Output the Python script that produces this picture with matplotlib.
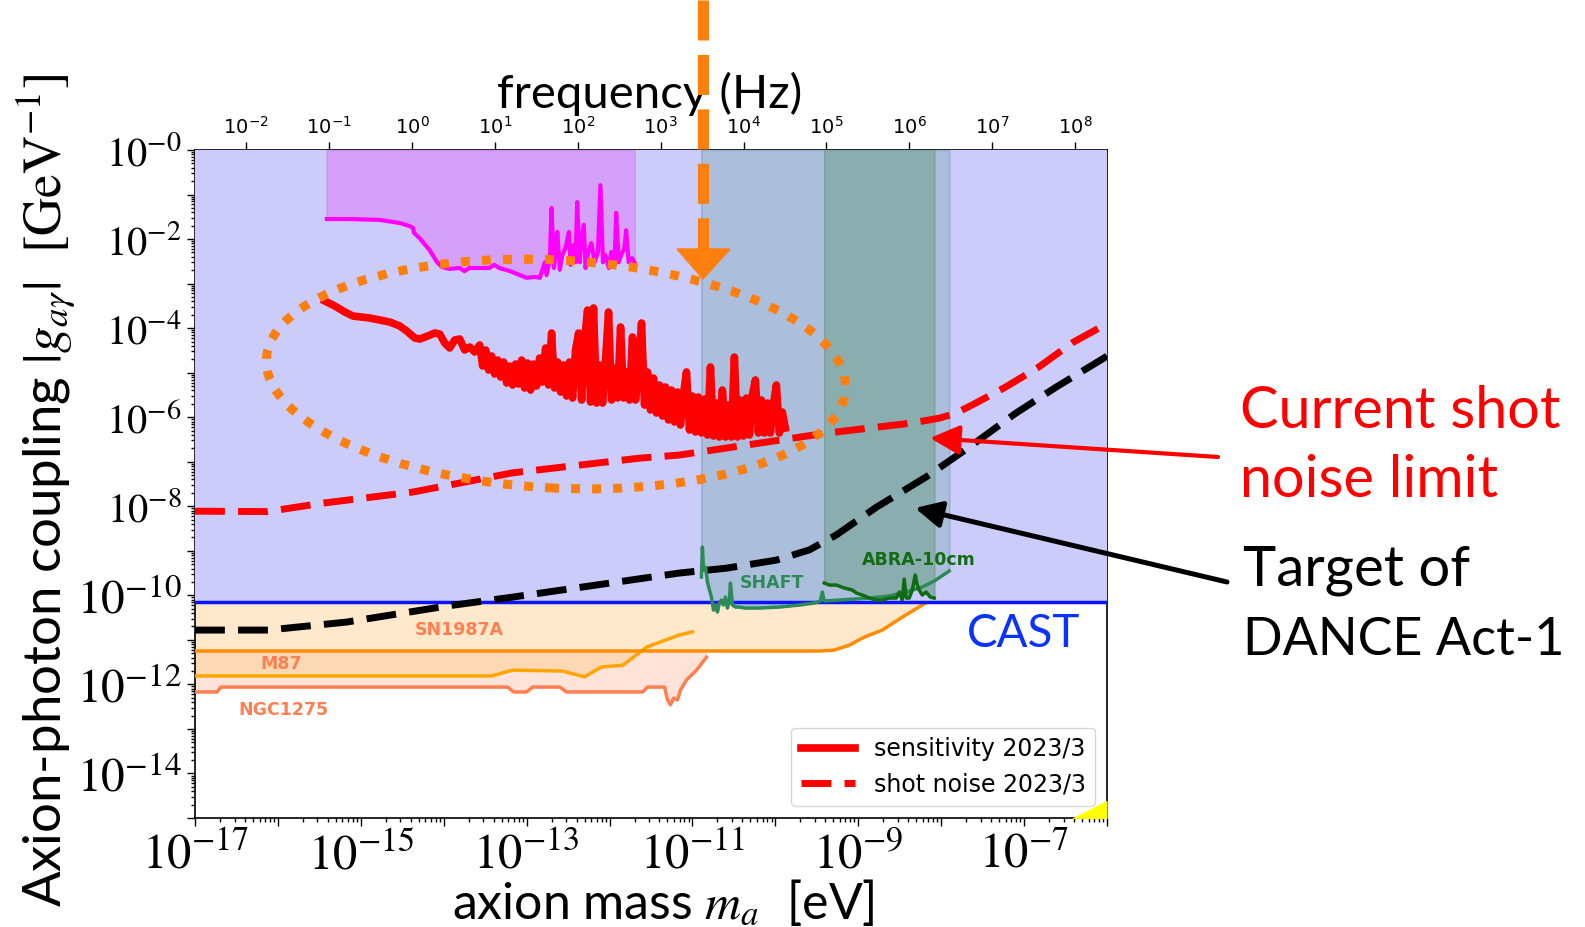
import numpy as np
import matplotlib
matplotlib.use("Agg")
import matplotlib.pyplot as plt
from matplotlib.patches import Ellipse, FancyArrowPatch, Polygon
from matplotlib.lines import Line2D
from matplotlib.ticker import LogLocator, NullFormatter, NullLocator

plt.rcParams['font.family'] = ['Lato', 'DejaVu Sans']
plt.rcParams['mathtext.fontset'] = 'dejavusans'

# ---------------- data (log10 of mass [eV] and coupling [GeV^-1]) ----------------
cast_logg = -10.16

sens_logm = [-15.434, -15.313, -15.193, -15.096, -14.892, -14.651, -14.530, -14.446, -14.349, -14.289,
             -14.193, -14.108, -14.048, -13.988, -13.928, -13.867, -13.807, -13.747, -13.687, -13.627,
             -13.566, -13.530, -13.494, -13.458, -13.422, -13.386, -13.349, -13.313, -13.277, -13.241,
             -13.205, -13.169, -13.133, -13.096, -13.060, -13.024, -12.988, -12.952, -12.916, -12.880,
             -12.843, -12.807, -12.771, -12.735, -12.699, -12.663, -12.627, -12.590, -12.554, -12.518,
             -12.482, -12.446, -12.410, -12.373, -12.337, -12.301, -12.265, -12.229, -12.193, -12.157,
             -12.120, -12.084, -12.048, -12.012, -11.976, -11.940, -11.904, -11.867, -11.831, -11.795,
             -11.759, -11.723, -11.687, -11.651, -11.614, -11.578, -11.542, -11.506, -11.470, -11.434,
             -11.398, -11.361, -11.325, -11.289, -11.253, -11.217, -11.181, -11.145, -11.108, -11.072,
             -11.036, -11.000, -10.964, -10.928, -10.892, -10.855, -10.819, -10.783, -10.747, -10.711,
             -10.675, -10.639, -10.602, -10.566, -10.530, -10.494, -10.458, -10.422, -10.386, -10.349,
             -10.313, -10.277, -10.241, -10.205, -10.169, -10.133, -10.096, -10.060, -10.024, -9.988,
             -9.952, -9.916, -9.880]
sens_logg = [-3.391, -3.503, -3.638, -3.728, -3.773, -3.863, -3.952, -4.065, -4.222, -4.244,
             -4.177, -4.110, -4.132, -4.334, -4.446, -4.267, -4.244, -4.491, -4.424, -4.536,
             -4.379, -4.851, -4.491, -4.941, -4.626, -5.030, -4.716, -5.098, -4.761, -5.232,
             -4.851, -5.277, -4.806, -5.255, -4.716, -5.345, -4.783, -5.390, -4.806, -5.300,
             -4.671, -5.210, -4.446, -5.277, -4.110, -5.345, -4.761, -5.435, -4.828, -5.524,
             -4.761, -5.569, -4.491, -4.110, -5.614, -4.267, -3.593, -5.659, -3.548, -5.682,
             -4.828, -5.682, -4.716, -3.638, -5.614, -4.896, -5.569, -3.975, -5.569, -4.985,
             -5.614, -4.199, -5.614, -4.941, -3.885, -5.727, -4.985, -5.839, -5.120, -5.906,
             -5.277, -5.974, -5.322, -6.063, -5.390, -6.108, -5.435, -6.176, -5.479, -4.985,
             -6.288, -5.524, -6.333, -5.547, -6.355, -5.592, -6.400, -4.873, -6.423, -5.682,
             -6.445, -5.390, -6.445, -5.727, -6.445, -4.649, -6.445, -5.614, -6.423, -5.569,
             -6.400, -5.502, -5.165, -6.355, -5.614, -6.355, -5.682, -6.355, -5.727, -5.277,
             -6.355, -5.884, -6.243]

shot_logm = [-17.0, -16.13, -15.46, -14.37, -13.17, -11.64, -11.16, -9.39, -8.35, -8.02, -7.82,
             -7.58, -7.22, -6.82, -6.42, -6.0]
shot_logg = [-8.11, -8.12, -7.93, -7.68, -7.25, -6.92, -6.85, -6.36, -6.13, -6.02, -5.91,
             -5.68, -5.32, -4.87, -4.33, -3.90]

target_logm = [-17.0, -16.12, -15.17, -13.96, -13.17, -11.16, -10.59, -9.99, -9.59, -9.27,
               -8.78, -8.18, -7.66, -7.10, -6.61, -6.0]
target_logg = [-10.78, -10.78, -10.60, -10.24, -10.04, -9.50, -9.39, -9.21, -8.98, -8.65,
               -8.02, -7.34, -6.67, -5.91, -5.32, -4.63]

prev_logm = [-15.41, -15.13, -14.77, -14.53, -14.41, -14.37, -14.36, -14.29, -14.17, -14.08,
             -14.02, -13.93, -13.81, -13.75, -13.69, -13.57, -13.45, -13.39, -13.33, -13.20,
             -13.08, -13.00, -12.90, -12.84, -12.81, -12.78, -12.76, -12.72, -12.70, -12.67,
             -12.65, -12.63, -12.60, -12.57, -12.53, -12.49, -12.47, -12.43, -12.41, -12.39,
             -12.36, -12.34, -12.31, -12.29, -12.25, -12.22, -12.18, -12.14, -12.11, -12.08,
             -12.05, -12.01, -11.98, -11.94, -11.92, -11.89, -11.86, -11.82, -11.80, -11.77,
             -11.73, -11.70]
prev_logg = [-1.55, -1.55, -1.57, -1.64, -1.71, -1.75, -1.86, -1.98, -2.25, -2.52,
             -2.63, -2.67, -2.65, -2.72, -2.65, -2.65, -2.65, -2.58, -2.65, -2.72,
             -2.81, -2.87, -2.85, -2.87, -2.69, -2.52, -2.81, -2.47, -1.30, -2.65,
             -2.25, -1.84, -2.69, -2.36, -2.20, -1.84, -2.58, -2.13, -2.52, -1.17,
             -2.52, -2.02, -1.68, -2.65, -2.25, -2.09, -2.52, -2.29, -0.79, -2.52,
             -2.36, -2.65, -2.29, -2.58, -1.41, -2.52, -2.36, -2.20, -1.80, -2.52,
             -2.43, -2.52]

shaft_logm = [-10.892, -10.880, -10.867, -10.843, -10.819, -10.795, -10.771, -10.747, -10.723, -10.699,
              -10.675, -10.651, -10.627, -10.602, -10.578, -10.554, -10.542, -10.518, -10.482, -10.434,
              -10.373, -10.193, -9.952, -9.711, -9.530, -9.458, -9.434, -9.410, -9.229, -8.867,
              -8.627, -8.386, -8.229, -8.084, -7.904]
shaft_logg = [-9.589, -8.915, -9.432, -9.365, -9.701, -9.881, -10.038, -10.330, -10.218, -10.375,
              -10.173, -10.106, -10.218, -10.038, -10.285, -10.106, -9.724, -10.218, -10.263, -10.263,
              -10.285, -10.285, -10.263, -10.218, -10.173, -10.128, -9.926, -10.128, -10.106, -10.061,
              -10.016, -9.904, -9.814, -9.679, -9.454]

abra_logm = [-9.410, -9.349, -9.265, -9.169, -9.072, -9.024, -8.952, -8.867, -8.783, -8.711,
             -8.627, -8.542, -8.506, -8.470, -8.446, -8.422, -8.386, -8.349, -8.313, -8.289,
             -8.265, -8.229, -8.181, -8.133, -8.084]
abra_logg = [-9.724, -9.769, -9.769, -9.836, -9.881, -9.948, -9.993, -10.061, -10.106, -10.106,
             -10.061, -10.061, -9.926, -10.106, -9.634, -10.061, -10.061, -9.881, -9.544, -9.769,
             -9.881, -9.993, -9.926, -10.038, -10.061]

sn_logm = [-17.0, -9.47, -9.29, -9.11, -8.93, -8.71, -8.47, -8.23, -8.02]
sn_logg = [-11.25, -11.25, -11.23, -11.12, -10.94, -10.78, -10.49, -10.22, -9.99]

m87_logm = [-17.0, -13.42, -13.17, -12.57, -12.30, -12.10, -11.84, -11.55, -11.16, -11.0]
m87_logg = [-11.81, -11.81, -11.68, -11.70, -11.83, -11.61, -11.57, -11.16, -10.89, -10.82]

ngc_logm = [-17.0, -16.735, -16.687, -13.229, -13.157, -13.0, -12.928, -12.602, -12.518, -11.602,
            -11.542, -11.337, -11.301, -11.265, -11.229, -11.181, -11.145, -11.072, -10.952, -10.831]
ngc_logg = [-12.17, -12.17, -12.06, -12.06, -12.17, -12.17, -12.06, -12.06, -12.17, -12.17,
            -12.06, -12.06, -12.35, -12.46, -12.31, -12.35, -12.13, -11.90, -11.68, -11.39]

qcd_logm = [-6.42, -6.0]
qcd_logg = [-15.0, -14.6]

xtick_exps = list(range(-17, -5))
ytick_exps = list(range(0, -16, -1))
ftick_exps = list(range(-2, 9))
HZ_PER_EV = 2.418e14

def p10(a):
    return np.power(10.0, np.asarray(a, dtype=float))

# ---------------- figure ----------------
W, H = 1585, 927
fig = plt.figure(figsize=(W / 100, H / 100), dpi=100)
ax = fig.add_axes([195 / W, 1 - 818 / H, 912 / W, 668 / H])
ax.set_xscale('log')
ax.set_yscale('log')
ax.set_xlim(1e-17, 1e-6)
ax.set_ylim(1e-15, 1)

TOP = 1.0
# astrophysical bounds
ax.fill_between(p10(ngc_logm), p10(ngc_logg), TOP, color='#ffe2d8', lw=0, zorder=1)
ax.fill_between(p10(m87_logm), p10(m87_logg), TOP, color='#fdd8b5', lw=0, zorder=1.5)
ax.fill_between(p10(sn_logm), p10(sn_logg), TOP, color='#ffe8cc', lw=0, zorder=2)
ax.plot(p10(ngc_logm), p10(ngc_logg), color='#ff7f50', lw=2.5, zorder=3)
ax.plot(p10(m87_logm), p10(m87_logg), color='#ffa500', lw=2.5, zorder=3)
ax.plot(p10(sn_logm), p10(sn_logg), color='#ff8c00', lw=2.5, zorder=3)
ax.fill_between(p10(qcd_logm), 1e-16, p10(qcd_logg), color='#ffff00', lw=0, zorder=3)

# CAST
cast = 10.0 ** cast_logg
ax.fill_between([1e-17, 1e-6], [cast, cast], [TOP, TOP], color='#ccccfa', lw=0, zorder=4)
ax.axhline(cast, color='#0a14ff', lw=2.5, zorder=6)

# previous result (magenta)
ax.fill_between(p10(prev_logm), p10(prev_logg), TOP, facecolor='#d4a0fa', edgecolor='#c88ef5',
                lw=1, zorder=5)
ax.plot(p10(prev_logm), p10(prev_logg), color='#ff00ff', lw=3, zorder=7)

# SHAFT / ABRA bands
ax.fill_between(p10(shaft_logm), p10(shaft_logg), TOP, facecolor='#abbedc', edgecolor='#98b0cc',
                lw=1.2, zorder=5)
ax.fill_between(p10(abra_logm), p10(abra_logg), TOP, facecolor='#8aadb0', edgecolor='#7ea39f',
                lw=1.2, zorder=5.1)
ax.plot(p10(shaft_logm), p10(shaft_logg), color='#2e8b57', lw=2.5, zorder=8)
ax.plot(p10(abra_logm), p10(abra_logg), color='#116b11', lw=2.5, zorder=8)

# DANCE curves
dash = (0, (4.3, 1.9))
l_sens, = ax.plot(p10(sens_logm), p10(sens_logg), color='red', lw=5.5, zorder=9,
                  solid_joinstyle='round', label='sensitivity 2023/3')
l_shot, = ax.plot(p10(shot_logm), p10(shot_logg), color='red', lw=5, ls=dash, zorder=9,
                  label='shot noise 2023/3')
ax.plot(p10(target_logm), p10(target_logg), color='black', lw=5, ls=dash, zorder=9)

# in-axes labels
bold = dict(family='DejaVu Sans', fontweight='bold', fontsize=12.5, ha='center', va='center', zorder=10)
ax.text(10 ** -13.807, 10 ** -10.779, 'SN1987A', color='#ff7f50', **bold)
ax.text(10 ** -15.964, 10 ** -11.543, 'M87', color='#ff7f50', **bold)
ax.text(10 ** -15.928, 10 ** -12.576, 'NGC1275', color='#ff7f50', **bold)
ax.text(10 ** -10.036, 10 ** -9.724, 'SHAFT', color='#2e8b57', **bold)
ax.text(10 ** -8.265, 10 ** -9.207, 'ABRA-10cm', color='#116b11', **bold)
ax.text(10 ** -7.687, 10 ** -11.161, 'CAST', color='#0a33ff', fontsize=33, ha='left',
        va='baseline', zorder=10)

# legend
leg = ax.legend(handles=[l_sens, l_shot], loc='lower right', handlelength=2.3,
                prop={'family': 'DejaVu Sans', 'size': 17})
leg.set_zorder(20)

# ticks
ax.set_xticks(p10(xtick_exps),
              labels=[(r'$10^{%d}$' % e) if e % 2 else '' for e in xtick_exps],
              fontsize=35, math_fontfamily='stix')
ax.xaxis.set_minor_locator(LogLocator(base=10, subs=np.arange(2, 10), numticks=100))
ax.xaxis.set_minor_formatter(NullFormatter())
ax.set_yticks(p10(ytick_exps),
              labels=[(r'$10^{-%d}$' % (-e)) if e % 2 == 0 else '' for e in ytick_exps],
              fontsize=29, math_fontfamily='stix')
for tick, e in zip(ax.yaxis.get_major_ticks(), ytick_exps):
    tick.label1.set_fontsize(34 if e <= -10 else 29)
ax.yaxis.set_minor_locator(LogLocator(base=10, subs=np.arange(2, 10), numticks=100))
ax.yaxis.set_minor_formatter(NullFormatter())
ax.tick_params(which='both', top=False, right=False, width=1)
ax.tick_params(which='major', length=6)
ax.tick_params(which='minor', length=3)
for s in ax.spines.values():
    s.set_linewidth(1.2)

secax = ax.secondary_xaxis('top', functions=(lambda m: m * HZ_PER_EV, lambda f: f / HZ_PER_EV))
secax.set_xticks(p10(ftick_exps), labels=[r'$10^{%d}$' % e for e in ftick_exps], fontsize=14)
secax.xaxis.set_minor_locator(NullLocator())
secax.tick_params(which='major', length=6, width=1)
secax.set_xlabel('frequency (Hz)', fontsize=34, va='center', ha='center')
secax.xaxis.set_label_coords(0.498, 1.084, transform=ax.transAxes)

ax.set_xlabel(r'axion mass $m_a$  [eV]', fontsize=36, math_fontfamily='stix', va='center', ha='center')
ax.xaxis.set_label_coords(0.514, -0.126)
ax.set_ylabel(r'Axion-photon coupling $|g_{a\gamma}|$  $[\mathrm{GeV}^{-1}]$', fontsize=38,
              math_fontfamily='stix', va='center', ha='center')
ax.yaxis.set_label_coords(-0.164, 0.49)

# ---------------- annotations (figure pixel layout) ----------------
def px(x, y):
    return (x / 100.0, (H - y) / 100.0)

T = fig.dpi_scale_trans
orange = '#ff7f0e'
fig.add_artist(Line2D([px(703, 0)[0], px(703, 250)[0]], [px(703, 0)[1], px(703, 250)[1]],
                      transform=T, color=orange, lw=8, dashes=(3.6, 1.3), zorder=30))
fig.add_artist(Polygon([px(677, 249), px(730, 249), px(703, 279)], closed=True,
                       transform=T, color=orange, zorder=30))
fig.add_artist(Ellipse(px(556, 374), 5.80, 2.28, angle=-3, transform=T, fill=False,
                       edgecolor=orange, lw=6.5, linestyle=(0, (1, 1.33)), zorder=30))
fig.add_artist(FancyArrowPatch(px(1218, 457), px(930, 438), transform=T,
                               arrowstyle='-|>,head_length=1.8,head_width=0.9', mutation_scale=10,
                               color='red', lw=3, shrinkA=0, shrinkB=0, zorder=30))
fig.add_artist(FancyArrowPatch(px(1227, 582), px(915, 508), transform=T,
                               arrowstyle='-|>,head_length=1.6,head_width=0.8', mutation_scale=10,
                               color='black', lw=3.6, shrinkA=0, shrinkB=0, zorder=30))

fig.text(*px(1240, 428), 'Current shot', transform=T, fontsize=41.5, color='red', va='baseline')
fig.text(*px(1240, 497), 'noise limit', transform=T, fontsize=41.5, color='red', va='baseline')
fig.text(*px(1243, 585), 'Target of', transform=T, fontsize=40.5, color='black', va='baseline')
fig.text(*px(1243, 655), 'DANCE Act-1', transform=T, fontsize=37.5, color='black', va='baseline')

fig.savefig('out.png', dpi=100)
